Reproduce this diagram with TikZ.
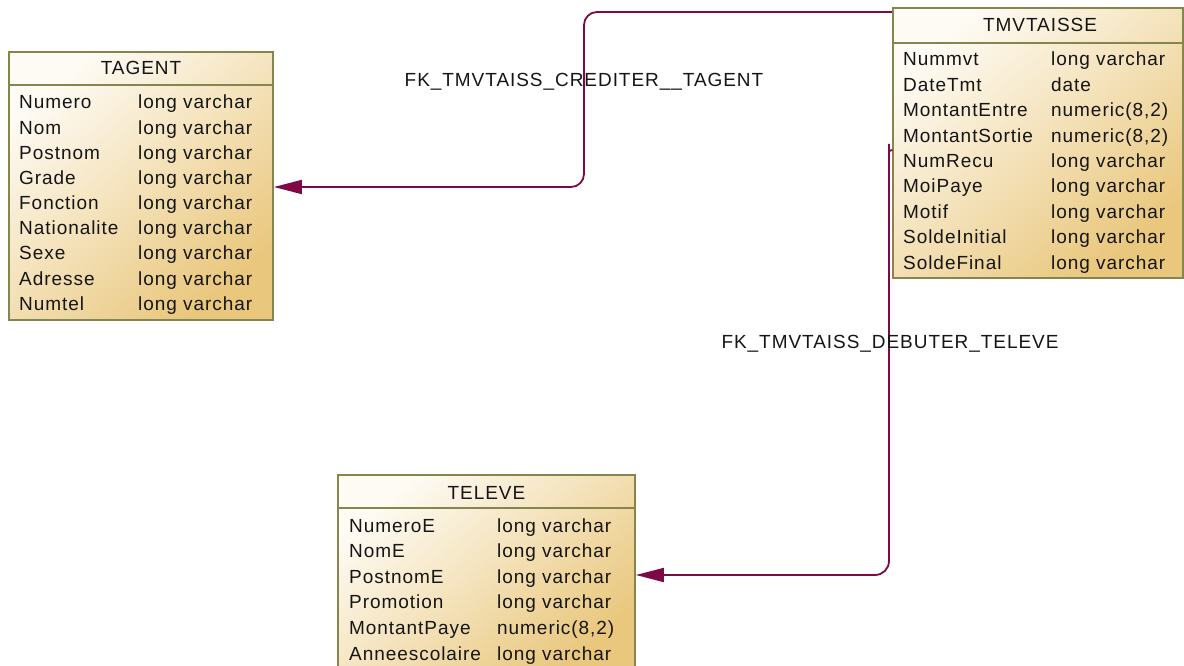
\documentclass[tikz,border=0pt]{standalone}
\usepackage{fontspec}
\setmainfont{Liberation Sans}[LetterSpace=5]
\usetikzlibrary{arrows.meta}

\definecolor{tblborder}{HTML}{85854E}
\definecolor{tbllight}{HTML}{FEFBF4}
\definecolor{tbldark}{HTML}{E9C77C}
\definecolor{fkline}{HTML}{7E0A45}
\definecolor{txt}{HTML}{151515}

\tikzset{
  tablebox/.style={draw=tblborder, line width=1.8pt, rectangle, inner sep=0pt,
    top color=tbllight, bottom color=tbldark, shading angle=40},
  headsep/.style={draw=tblborder, line width=1.8pt},
  title/.style={inner sep=0pt, anchor=base, text=txt},
  field/.style={inner sep=0pt, anchor=base west, text=txt},
  fk/.style={draw=fkline, line width=1.8pt,
    -{Triangle[length=28pt, width=14pt]}},
  fklabel/.style={inner sep=0pt, anchor=base, text=txt}
}

\begin{document}
\fontsize{19}{21}\selectfont
\begin{tikzpicture}[x=1pt, y=-1pt]
\useasboundingbox (0,0) rectangle (1184,666);
\clip (0,0) rectangle (1184,666);

% ---------------- TAGENT ----------------
\node[tablebox, minimum width=264pt, minimum height=268pt] (tagent) at (141,186) {};
\draw[headsep] (tagent.north west |- 0,85) -- (tagent.north east |- 0,85);
\node[title] (tagenth) at (141,75) {TAGENT};
\foreach \n/\t [count=\i from 0] in {Numero/long varchar, Nom/long varchar,
    Postnom/long varchar, Grade/long varchar, Fonction/long varchar,
    Nationalite/long varchar, Sexe/long varchar, Adresse/long varchar,
    Numtel/long varchar} {
  \node[field] (tagentn\i) at (19,109+25.15*\i) {\n};
  \node[field] (tagentt\i) at (138,109+25.15*\i) {\t};
}

% ---------------- TMVTAISSE ----------------
\node[tablebox, minimum width=290pt, minimum height=270pt] (tmvt) at (1037.7,143) {};
\draw[headsep] (tmvt.north west |- 0,42.7) -- (tmvt.north east |- 0,42.7);
\node[title] (tmvth) at (1040,32) {TMVTAISSE};
\foreach \n/\t [count=\i from 0] in {Nummvt/long varchar, DateTmt/date,
    MontantEntre/numeric(8{,}2), MontantSortie/numeric(8{,}2),
    NumRecu/long varchar, MoiPaye/long varchar, Motif/long varchar,
    SoldeInitial/long varchar, SoldeFinal/long varchar} {
  \node[field] (tmvtn\i) at (903,66+25.4*\i) {\n};
  \node[field] (tmvtt\i) at (1051,66+25.4*\i) {\t};
}

% ---------------- TELEVE ----------------
\node[tablebox, minimum width=297pt, minimum height=200pt] (televe) at (486.5,575) {};
\draw[headsep] (televe.north west |- 0,508) -- (televe.north east |- 0,508);
\node[title] (televeh) at (486.5,499) {TELEVE};
\foreach \n/\t [count=\i from 0] in {NumeroE/long varchar, NomE/long varchar,
    PostnomE/long varchar, Promotion/long varchar,
    MontantPaye/numeric(8{,}2), Anneescolaire/long varchar} {
  \node[field] (televen\i) at (349,532+25.6*\i) {\n};
  \node[field] (televet\i) at (497,532+25.6*\i) {\t};
}

% ---------------- foreign keys ----------------
\coordinate (c1a) at (584,12);
\coordinate (c1b) at (584,187);
\draw[fk, rounded corners=13pt] (tmvt.north west |- c1a) -- (c1a) -- (c1b) -- (tagent.east |- c1b);
\node[fklabel] (fk1) at (584,87) {FK\_TMVTAISS\_CREDITER\_\_TAGENT};

\coordinate (c2s) at (892.5,150);
\coordinate (c2a) at (889,158);
\coordinate (c2b) at (889,575);
\draw[fk, rounded corners=14pt] (c2s) to[out=180, in=90] (c2a) -- (c2b) -- (televe.east |- c2b);
\node[fklabel] (fk2) at (890,348) {FK\_TMVTAISS\_DEBUTER\_TELEVE};
\end{tikzpicture}
\end{document}
